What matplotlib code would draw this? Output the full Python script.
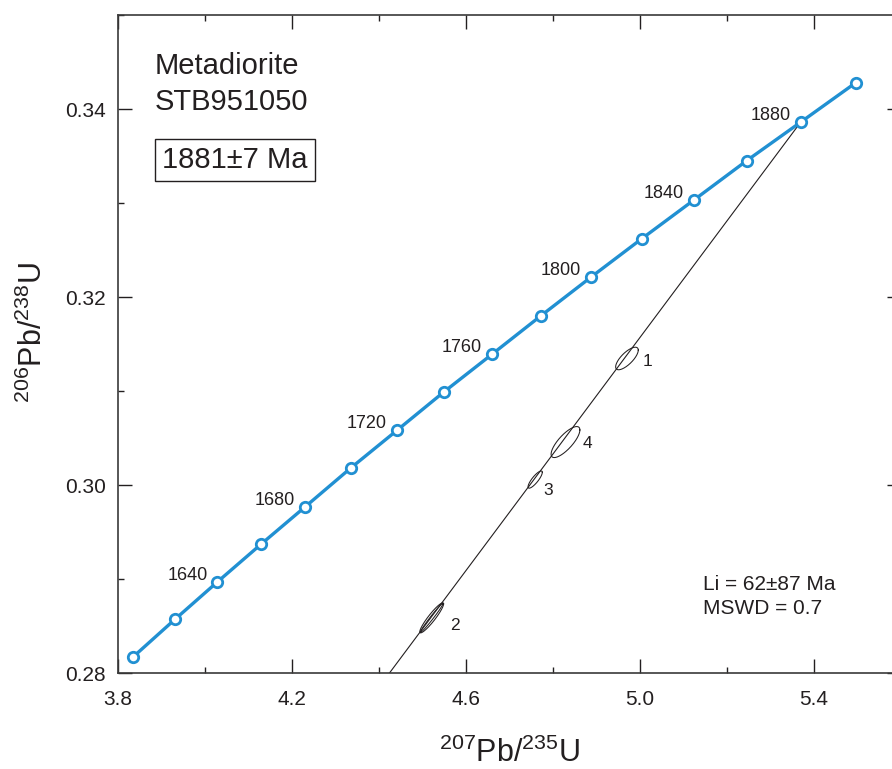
import numpy as np
import matplotlib
matplotlib.use("Agg")
import matplotlib.pyplot as plt
from matplotlib.ticker import MultipleLocator

plt.rcParams['font.family'] = ['Liberation Sans', 'DejaVu Sans']
plt.rcParams['mathtext.fontset'] = 'custom'
plt.rcParams['mathtext.rm'] = 'Liberation Sans'

# concordia points (207Pb/235U, 206Pb/238U), every 20 Ma from 1600 to 1900 Ma
conc_ages = [1600, 1620, 1640, 1660, 1680, 1700, 1720, 1740,
             1760, 1780, 1800, 1820, 1840, 1860, 1880, 1900]
conc_x = [3.8344, 3.9306, 4.0287, 4.1287, 4.2307, 4.3348, 4.4409, 4.5491,
          4.6595, 4.7721, 4.8869, 5.0040, 5.1234, 5.2452, 5.3694, 5.4961]
conc_y = [0.2817, 0.2857, 0.2897, 0.2937, 0.2977, 0.3018, 0.3058, 0.3099,
          0.3139, 0.3180, 0.3221, 0.3262, 0.3303, 0.3345, 0.3386, 0.3428]
labelled_ages = [1640, 1680, 1720, 1760, 1800, 1840, 1880]

# discordia: lower intercept (62 Ma) to upper intercept (1881 Ma)
disc_x = [0.0629, 5.3694]
disc_y = [0.00966, 0.3386]

# analyses: centre, half-width of error box, correlation
spot_id = ['1', '4', '3', '2', '']
spot_x = [4.970, 4.8287, 4.759, 4.5211, 4.5211]
spot_sx = [0.0260, 0.0331, 0.0164, 0.0274, 0.0262]
spot_y = [0.31346, 0.30457, 0.30058, 0.28587, 0.28587]
spot_sy = [0.00120, 0.00165, 0.000916, 0.00160, 0.00155]
spot_rho = [0.74, 0.78, 0.84, 0.93, 0.985]

x_major = [3.8, 4.2, 4.6, 5.0, 5.4]
x_labels = ['3.8', '4.2', '4.6', '5.0', '5.4']
y_major = [0.28, 0.30, 0.32, 0.34]
y_labels = ['0.28', '0.30', '0.32', '0.34']

ink = '#231f20'
blue = '#2190d2'

fig = plt.figure(figsize=(8.92, 7.69), dpi=100)
ax = fig.add_axes([0.1323, 0.1248, 0.8778, 0.8557])
ax.set_xlim(3.8, 5.6)
ax.set_ylim(0.28, 0.35)

# discordia
ax.plot(disc_x, disc_y, color=ink, lw=0.8, zorder=2)

# error ellipses
t = np.linspace(0, 2 * np.pi, 200)
for cx, sx, cy, sy, r in zip(spot_x, spot_sx, spot_y, spot_sy, spot_rho):
    ex = cx + sx * np.cos(t)
    ey = cy + sy * (r * np.cos(t) + np.sqrt(1 - r ** 2) * np.sin(t))
    ax.plot(ex, ey, color=ink, lw=0.75, zorder=2)

# label offsets in pixels from ellipse centre
id_offset = {'1': (21, -3), '4': (22, -1), '3': (13, -11), '2': (23, -8)}
for sid, cx, cy in zip(spot_id, spot_x, spot_y):
    if sid:
        ax.annotate(sid, (cx, cy), xytext=id_offset[sid], textcoords='offset pixels',
                    fontsize=12.5, color=ink, ha='center', va='center')

# concordia curve
ax.plot(conc_x, conc_y, color=blue, lw=2.4, marker='o', ms=7.5,
        mfc='white', mec=blue, mew=2.0, zorder=3)
for a, x, y in zip(conc_ages, conc_x, conc_y):
    if a in labelled_ages:
        ax.annotate(str(a), (x, y), xytext=(-10, 2), textcoords='offset pixels',
                    fontsize=13, color=ink, ha='right', va='baseline')

ax.text(0.0473, 0.910, 'Metadiorite', transform=ax.transAxes,
        fontsize=21, color=ink, ha='left', va='baseline')
ax.text(0.0473, 0.8556, 'STB951050', transform=ax.transAxes,
        fontsize=21, color=ink, ha='left', va='baseline')
ax.text(0.0562, 0.7675, '1881\u00b17 Ma', transform=ax.transAxes,
        fontsize=21, color=ink, ha='left', va='baseline',
        bbox=dict(boxstyle='square,pad=0.25', fc='white', ec=ink, lw=1))
ax.text(0.7471, 0.1261, 'Li = 62\u00b187 Ma', transform=ax.transAxes,
        fontsize=15, color=ink, ha='left', va='baseline')
ax.text(0.7471, 0.0897, 'MSWD = 0.7', transform=ax.transAxes,
        fontsize=15, color=ink, ha='left', va='baseline')

ax.set_xticks(x_major)
ax.set_xticklabels(x_labels)
ax.set_yticks(y_major)
ax.set_yticklabels(y_labels)
ax.xaxis.set_minor_locator(MultipleLocator(0.2))
ax.yaxis.set_minor_locator(MultipleLocator(0.01))
ax.tick_params(which='both', direction='in', top=True, right=True,
               color=ink, width=1, labelsize=15, labelcolor=ink)
ax.tick_params(which='major', length=10)
ax.tick_params(axis='x', which='major', pad=12)
ax.tick_params(axis='y', which='major', pad=9)
ax.tick_params(which='minor', length=4.5)
for s in ax.spines.values():
    s.set_color('#3a3a3a')
    s.set_linewidth(1.2)

ax.set_xlabel(r'$^{207}$Pb/$^{235}$U', fontsize=22, color=ink, labelpad=21)
ax.set_ylabel(r'$^{206}$Pb/$^{238}$U', fontsize=22, color=ink)
ax.yaxis.set_label_coords(-0.0876, 0.517)

fig.savefig('out.png', dpi=100)
